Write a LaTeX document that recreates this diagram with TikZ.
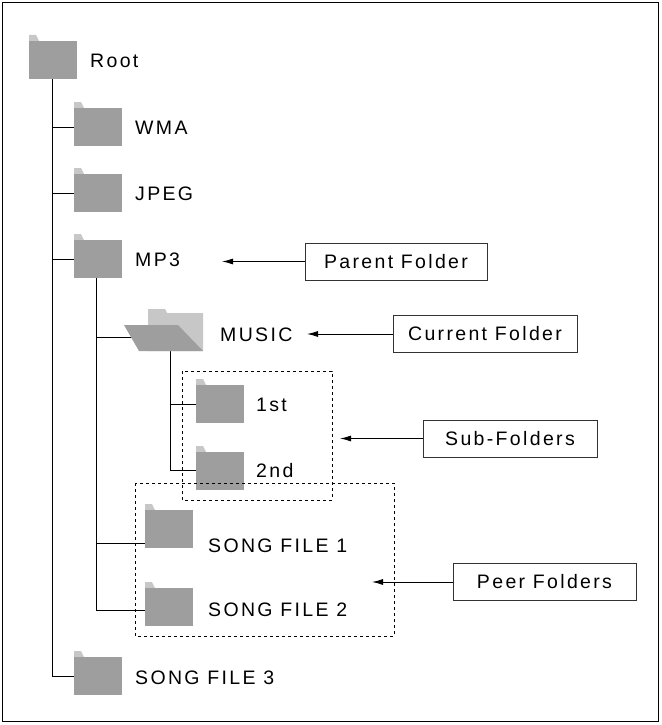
\documentclass[tikz,border=0pt]{standalone}
\usepackage{fontspec}
\setmainfont{Liberation Sans}[LetterSpace=12]
\usetikzlibrary{arrows.meta}
\begin{document}
\begin{tikzpicture}[x=1pt,y=-1pt,
  lbl/.style={anchor=west,inner sep=0pt,font=\fontsize{19.5}{22}\selectfont},
  box/.style={draw,thick,black!80,text=black,minimum height=37pt,inner sep=0pt,font=\fontsize{19.5}{22}\selectfont},
  ln/.style={line width=0.9pt},
  arr/.style={line width=0.9pt,-{Latex[length=11pt,width=6pt]}},
  dbox/.style={draw,dashed,line width=0.6pt}]
\useasboundingbox (0,0) rectangle (661,725);
\draw[line width=0.8pt] (2,2) rectangle (658,721);
\tikzset{folder/.pic={
  \fill[black!22] (0,-6) -- (7,-6) -- (10,0) -- (0,0) -- cycle;
  \fill[black!38] (0,0) rectangle (48,38);}}
% tree lines
\draw[ln] (52,79) -- (52,676) -- (74,676);
\draw[ln] (52,127) -- (74,127);
\draw[ln] (52,193) -- (74,193);
\draw[ln] (52,259) -- (74,259);
\draw[ln] (96,278) -- (96,610) -- (145,610);
\draw[ln] (96,337) -- (132,337);
\draw[ln] (96,543) -- (145,543);
\draw[ln] (170,351) -- (170,470) -- (196,470);
\draw[ln] (170,404) -- (196,404);
% folders
\pic (root) at (29,41) {folder};
\pic (wma) at (74,108) {folder};
\pic (jpeg) at (74,174) {folder};
\pic (mp3) at (74,240) {folder};
\pic (f1) at (196,385) {folder};
\pic (f2) at (196,452) {folder};
\pic (s1) at (145,510) {folder};
\pic (s2) at (145,588) {folder};
\pic (s3) at (74,657) {folder};
% open folder
\fill[black!22] (148,309) -- (165,309) -- (167,313) -- (203,313) -- (203,351) -- (148,351) -- cycle;
\fill[black!38] (124,325) -- (178,325) -- (203,351) -- (139,351) -- cycle;
% labels
\node[lbl] (troot) at (90,61) {Root};
\node[lbl] (twma) at (135,128) {WMA};
\node[lbl] (tjpeg) at (135,194) {JPEG};
\node[lbl] (tmp3) at (135,260) {MP3};
\node[lbl] (tmusic) at (220,335) {MUSIC};
\node[lbl] (t1) at (256,405) {1st};
\node[lbl] (t2) at (256,471) {2nd};
\node[lbl] (ts1) at (208,546) {SONG FILE 1};
\node[lbl] (ts2) at (208,610) {SONG FILE 2};
\node[lbl] (ts3) at (135,678) {SONG FILE 3};
% dashed groups
\draw[dbox] (182,371) rectangle (332,500);
\draw[dbox] (135,483) rectangle (394,636);
% boxes
\node[box,minimum width=182pt] (parent) at (396,261.5) {Parent Folder};
\node[box,minimum width=184pt] (current) at (485,334) {Current Folder};
\node[box,minimum width=174pt] (sub) at (510,438.5) {Sub-Folders};
\node[box,minimum width=183pt] (peer) at (544.5,582) {Peer Folders};
\coordinate (subt) at (340,0 |- sub.west);
\coordinate (peert) at (372,0 |- peer.west);
\coordinate (part) at (222,0 |- parent.west);
\coordinate (curt) at (307,0 |- current.west);
\draw[arr] (parent.west) -- (part);
\draw[arr] (current.west) -- (curt);
\draw[arr] (sub.west) -- (subt);
\draw[arr] (peer.west) -- (peert);
\end{tikzpicture}
\end{document}
